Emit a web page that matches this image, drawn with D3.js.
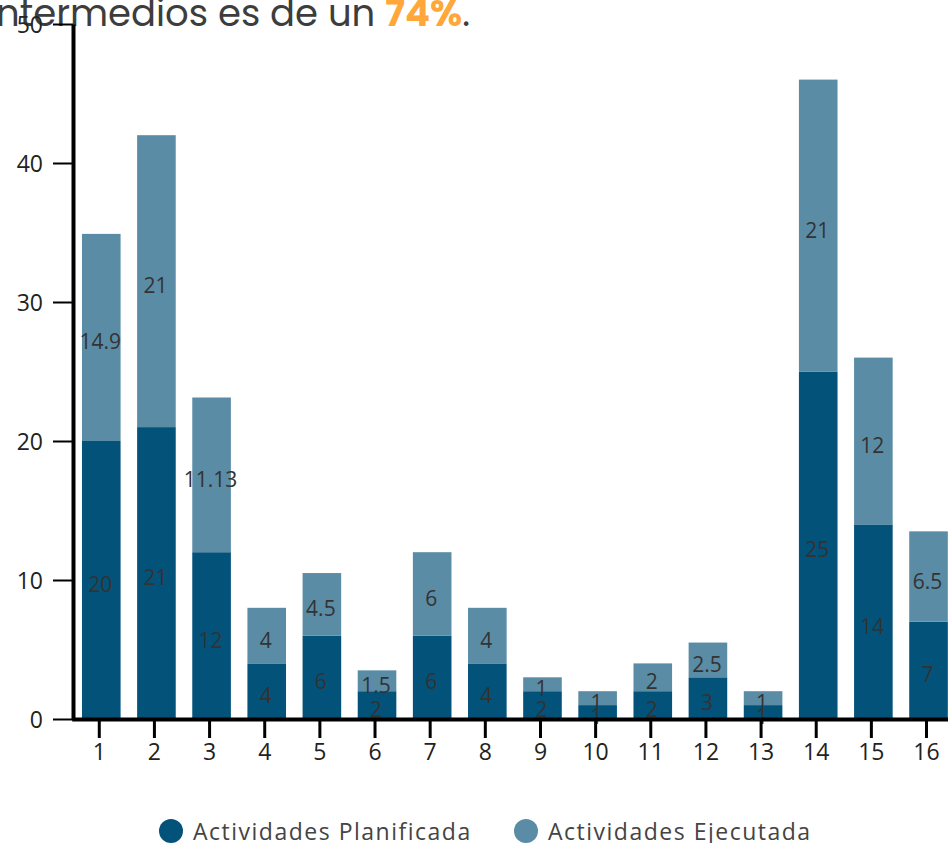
<!DOCTYPE html>
<html><head><meta charset="utf-8">
<script src="https://cdn.jsdelivr.net/npm/d3@7"></script>
<style>
html,body{margin:0;padding:0;background:#fff;overflow:hidden}
svg{display:block}
</style></head>
<body><svg id="c" width="948" height="843"></svg>
<script>
const categories = ["1","2","3","4","5","6","7","8","9","10","11","12","13","14","15","16"];
const planificada = [20,21,12,4,6,2,6,4,2,1,2,3,1,25,14,7];
const ejecutada = [14.9,21,11.13,4,4.5,1.5,6,4,1,1,2,2.5,1,21,12,6.5];
const yTicks = [0,10,20,30,40,50];
const seriesNames = ["Actividades Planificada","Actividades Ejecutada"];
const colors = ["#03527a","#5a8ca6"];

const FONT = "'Open Sans', sans-serif";
const svg = d3.select("#c");

const x = d3.scaleBand().domain(categories).range([73.7, 956.1]).paddingInner(0.3).paddingOuter(0.15);
const y = d3.scaleLinear().domain([0,50]).range([719, 24]);

// title (cut at top)
const title = svg.append("text").attr("x", 470).attr("y", 26).attr("text-anchor","end")
  .attr("font-family", "Poppins, 'Open Sans', sans-serif").attr("font-size", 37).attr("fill","#3d3d3d");
title.append("tspan").text("intermedios es de un ");
title.append("tspan").attr("font-weight","bold").attr("fill","#ffa73b").text("74%");
title.append("tspan").text(".");

const data = categories.map((c,i)=>({c, p: planificada[i], e: ejecutada[i]}));

// bars
const g = svg.append("g");
g.selectAll("rect.p").data(data).join("rect").attr("class","p")
  .attr("x", d=>x(d.c)).attr("width", x.bandwidth())
  .attr("y", d=>y(d.p)).attr("height", d=>y(0)-y(d.p)).attr("fill", colors[0]);
g.selectAll("rect.e").data(data).join("rect").attr("class","e")
  .attr("x", d=>x(d.c)).attr("width", x.bandwidth())
  .attr("y", d=>y(d.p+d.e)).attr("height", d=>y(d.p)-y(d.p+d.e)).attr("fill", colors[1]);

// labels
const lab = svg.append("g").attr("font-family", FONT).attr("font-size", 21).attr("fill","#333").attr("text-anchor","middle");
lab.selectAll("text.p").data(data).join("text").attr("class","p")
  .attr("x", d=>x(d.c)+x.bandwidth()/2-1).attr("y", d=>y(d.p/2)+12).text(d=>d.p);
lab.selectAll("text.e").data(data).join("text").attr("class","e")
  .attr("x", d=>x(d.c)+x.bandwidth()/2-1).attr("y", d=>y(d.p+d.e/2)+12).text(d=>d.e);

// y axis
const ya = svg.append("g").attr("transform","translate(73,0)")
  .call(d3.axisLeft(y).tickValues(yTicks).tickSize(20).tickPadding(10).tickSizeOuter(0));
ya.select(".domain").attr("stroke","#000").attr("stroke-width",4);
ya.selectAll(".tick line").attr("stroke","#000").attr("stroke-width",2);
ya.selectAll(".tick text").attr("font-family",FONT).attr("font-size",23).attr("fill","#222").attr("dy","0.36em");

// x axis
const xa = svg.append("g").attr("transform","translate(-2,719)")
  .call(d3.axisBottom(x).tickSize(19).tickPadding(6).tickSizeOuter(0));
xa.select(".domain").attr("stroke","#000").attr("stroke-width",4);
xa.selectAll(".tick line").attr("stroke","#000").attr("stroke-width",3);
xa.selectAll(".tick text").attr("font-family",FONT).attr("font-size",23).attr("fill","#222");

// legend
const leg = svg.append("g").attr("font-family", FONT).attr("font-size", 23).attr("letter-spacing", 1.5).attr("fill","#444");
const legX = [171, 526];
seriesNames.forEach((n,i)=>{
  leg.append("circle").attr("cx", legX[i]).attr("cy", 831).attr("r", 12).attr("fill", colors[i]);
  leg.append("text").attr("x", legX[i]+22).attr("y", 840).attr("fill","#444").text(n);
});
</script></body></html>
